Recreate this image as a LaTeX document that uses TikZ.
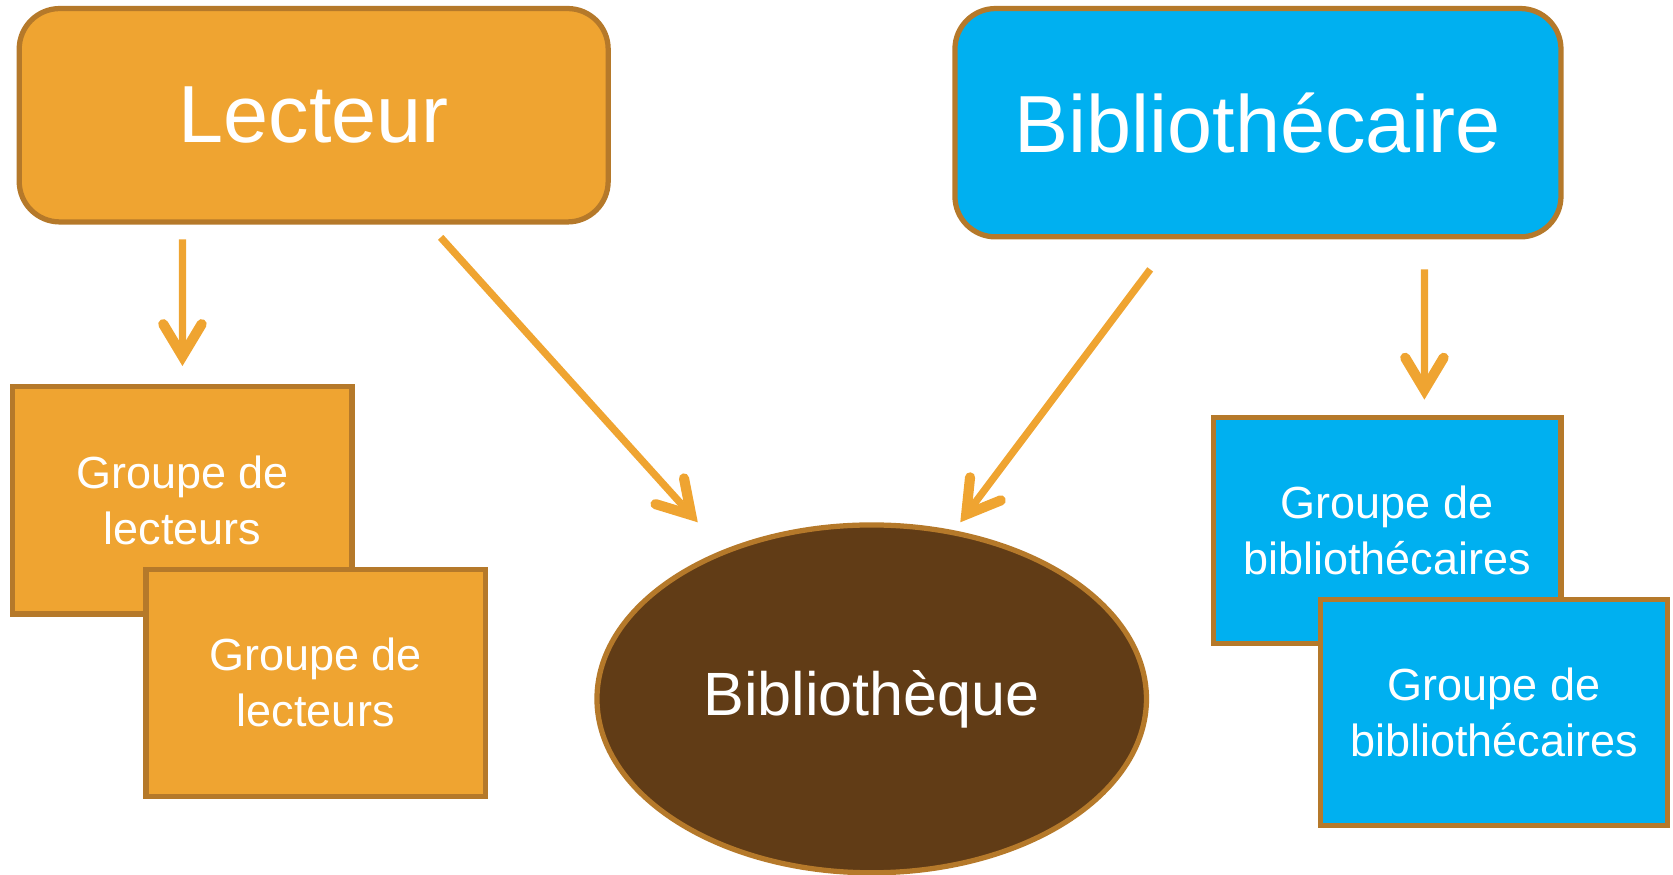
\documentclass[tikz,border=0pt]{standalone}
\usepackage{fontspec}
\setmainfont{Liberation Sans}
\usepackage{tikz}
\usetikzlibrary{arrows.meta,positioning,shapes.geometric}

\definecolor{lecteurfill}{HTML}{EFA431}
\definecolor{bibfill}{HTML}{00B0F0}
\definecolor{lieufill}{HTML}{613C16}
\definecolor{bord}{HTML}{B5792A}

\tikzset{
  acteur/.style={draw=bord,line width=1.4pt,rounded corners=0.38cm,inner sep=0pt,
    text=white,font=\fontsize{21.6}{26}\selectfont},
  groupe/.style={draw=bord,line width=1.4pt,inner sep=0pt,minimum width=3.18cm,
    minimum height=2.13cm,text=white,align=center,font=\fontsize{12}{15}\selectfont},
  fleche/.style={draw=lecteurfill,line width=0.068cm,
    -{Straight Barb[length=0.3cm,width=0.36cm,line width=0.095cm,line cap=round,line join=miter]}}
}

\begin{document}
\begin{tikzpicture}[node distance=1cm, auto,]
\useasboundingbox (0,0) rectangle (15.68,-8.20);

%top boxes
\node[acteur,fill=lecteurfill,minimum width=5.52cm,minimum height=2cm] (lecteur) at (2.94,-1.08) {Lecteur};
\node[acteur,fill=bibfill,minimum width=5.68cm,minimum height=2.14cm] (biblio) at (11.79,-1.15) {Bibliothécaire};

%groups of lecteurs
\node[groupe,fill=lecteurfill] (L1) at (1.71,-4.69) {Groupe de\\lecteurs};
\node[groupe,fill=lecteurfill,below right=-0.47cm and -1.98cm of L1] (L2) {Groupe de\\lecteurs};

%groups of bibliothecaires
\node[groupe,fill=bibfill,minimum width=3.26cm,minimum height=2.12cm] (B1) at (13.00,-4.97) {Groupe de\\bibliothécaires};
\node[groupe,fill=bibfill,minimum width=3.25cm,minimum height=2.12cm,below right=-0.46cm and -2.30cm of B1] (B2) {Groupe de\\bibliothécaires};

%library
\node[ellipse,draw=bord,line width=1.4pt,fill=lieufill,inner sep=0pt,minimum width=5.15cm,
  minimum height=3.26cm,text=white,font=\fontsize{16.3}{20}\selectfont] (bib) at (8.17,-6.55) {\raisebox{-0.06cm}{Bibliothèque}};

%arrows
\draw[fleche] ([xshift=-1.23cm,yshift=-0.14cm]lecteur.south) -- ([yshift=0.17cm]L1.north);
\draw[fleche] ([xshift=1.19cm,yshift=-0.12cm]lecteur.south) -- ([xshift=-1.63cm,yshift=0.0cm]bib.north);
\draw[fleche] ([xshift=-1.01cm,yshift=-0.28cm]biblio.south) -- ([xshift=0.83cm,yshift=0.0cm]bib.north);
\draw[fleche] ([xshift=1.56cm,yshift=-0.28cm]biblio.south) -- ([xshift=0.35cm,yshift=0.14cm]B1.north);

\end{tikzpicture}
\end{document}
